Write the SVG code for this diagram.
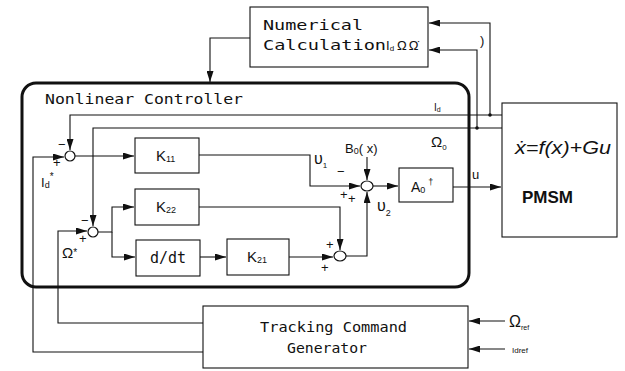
<svg xmlns="http://www.w3.org/2000/svg" width="625" height="371" viewBox="0 0 625 371">
<style>
.box{fill:#fff;stroke:#111;stroke-width:1.1}
.ln{fill:none;stroke:#111;stroke-width:1.1}
.sum{fill:#fff;stroke:#111;stroke-width:1.2}
.mono{font-family:"DejaVu Sans Mono","Liberation Mono",monospace;fill:#111}
.sans{font-family:"Liberation Sans",Arial,sans-serif;fill:#111}
.sg{font-family:"Liberation Sans",Arial,sans-serif;font-size:13px;fill:#111}
</style>
<defs>
<marker id="ah" markerWidth="11" markerHeight="7" refX="11" refY="3.5" orient="auto" markerUnits="userSpaceOnUse">
<path d="M0,0 L11,3.5 L0,7 z" fill="#111"/>
</marker>
</defs>
<rect width="625" height="371" fill="#fff"/>

<g id="controller">
<rect x="22" y="83" width="447" height="204" rx="14" ry="14" fill="none" stroke="#111" stroke-width="3"/>
<text class="mono" x="45" y="104" font-size="14" textLength="198" lengthAdjust="spacingAndGlyphs">Nonlinear Controller</text>
</g>

<g id="numerical">
<rect class="box" x="250" y="7" width="178" height="60"/>
<text class="mono" x="263" y="30" font-size="14" textLength="100" lengthAdjust="spacingAndGlyphs">Numerical</text>
<text class="mono" x="263" y="50" font-size="14" textLength="123" lengthAdjust="spacingAndGlyphs">Calculation</text>
<text class="sans" x="386" y="50" font-size="13">I<tspan font-size="8" dy="1">d</tspan><tspan dy="-1" dx="3">Ω</tspan><tspan dx="2">Ω̇</tspan></text>
</g>

<g id="pmsm">
<rect class="box" x="502" y="103" width="115" height="134"/>
<text class="sans" x="515" y="154" font-size="18" font-style="italic" textLength="96" lengthAdjust="spacingAndGlyphs">ẋ=f(x)+Gu</text>
<text class="sans" x="522" y="203" font-size="17" font-weight="bold">PMSM</text>
</g>

<g id="tracking">
<rect class="box" x="203" y="306" width="265" height="62"/>
<text class="mono" x="260" y="332" font-size="14" textLength="147" lengthAdjust="spacingAndGlyphs">Tracking Command</text>
<text class="mono" x="287" y="353" font-size="14" textLength="80" lengthAdjust="spacingAndGlyphs">Generator</text>
</g>

<g id="k11">
<rect class="box" x="135" y="138" width="64" height="35"/>
<text class="sans" x="156" y="161" font-size="15">K<tspan font-size="9" dy="1">11</tspan></text>
</g>
<g id="k22">
<rect class="box" x="135" y="189" width="64" height="36"/>
<text class="sans" x="156" y="212" font-size="15">K<tspan font-size="9" dy="1">22</tspan></text>
</g>
<g id="ddt">
<rect class="box" x="136" y="240" width="64" height="36"/>
<text class="mono" x="168" y="263" font-size="15" text-anchor="middle">d/dt</text>
</g>
<g id="k21">
<rect class="box" x="227" y="239" width="62" height="36"/>
<text class="sans" x="247" y="262" font-size="15">K<tspan font-size="9" dy="1">21</tspan></text>
</g>
<g id="a0">
<rect class="box" x="399" y="168" width="54" height="34"/>
<text class="sans" x="411" y="192" font-size="14">A<tspan font-size="9" dy="1">0</tspan><tspan font-size="9" dy="-8" dx="3">†</tspan></text>
</g>

<g id="sum1"><circle class="sum" cx="70" cy="156" r="5"/></g>
<g id="sum2"><circle class="sum" cx="93" cy="232" r="5"/></g>
<g id="sum3"><ellipse class="sum" cx="367" cy="186" rx="6" ry="5"/></g>
<g id="sum4"><ellipse class="sum" cx="340" cy="256" rx="6" ry="5"/></g>

<g id="connectors">
<path class="ln" d="M250,38 H210 V82" marker-end="url(#ah)"/>
<path class="ln" d="M502,115 H70 V150" marker-end="url(#ah)"/>
<path class="ln" d="M502,128 H93 V226" marker-end="url(#ah)"/>
<path class="ln" d="M490,115 V23 H429" marker-end="url(#ah)"/>
<path class="ln" d="M477,128 V50 H429" marker-end="url(#ah)"/>
<circle cx="490" cy="115" r="1.8" fill="#111"/>
<circle cx="477" cy="128" r="1.8" fill="#111"/>
<path class="ln" d="M203,352 H33 V157 H64" marker-end="url(#ah)"/>
<path class="ln" d="M203,323 H58 V231 H87" marker-end="url(#ah)"/>
<path class="ln" d="M75,156 H134" marker-end="url(#ah)"/>
<path class="ln" d="M98,232 H112 V207 H134" marker-end="url(#ah)"/>
<path class="ln" d="M112,232 V257 H135" marker-end="url(#ah)"/>
<path class="ln" d="M200,257 H226" marker-end="url(#ah)"/>
<path class="ln" d="M289,257 H333" marker-end="url(#ah)"/>
<path class="ln" d="M199,207 H340 V250" marker-end="url(#ah)"/>
<path class="ln" d="M346,256 H367 V192" marker-end="url(#ah)"/>
<path class="ln" d="M199,155 H310 V186 H360" marker-end="url(#ah)"/>
<path class="ln" d="M367,157 V180" marker-end="url(#ah)"/>
<path class="ln" d="M373,186 H398" marker-end="url(#ah)"/>
<path class="ln" d="M453,187 H501" marker-end="url(#ah)"/>
<path class="ln" d="M505,321 H469" marker-end="url(#ah)"/>
<path class="ln" d="M505,349 H469" marker-end="url(#ah)"/>
</g>

<g id="labels">
<text class="sans" x="434" y="111" font-size="10">I<tspan font-size="7" dy="1">d</tspan></text>
<text class="sans" x="431" y="147" font-size="15">Ω<tspan font-size="8" dy="3">0</tspan></text>
<text class="sans" x="472" y="179" font-size="13">u</text>
<text class="sans" x="480" y="45" font-size="13">)</text>
<text class="sans" x="345" y="153" font-size="13">B<tspan font-size="9" dy="1">0</tspan><tspan dy="-1">( x)</tspan></text>
<text class="sans" x="314" y="164" font-size="16">υ<tspan font-size="8" dy="4">1</tspan></text>
<text class="sans" x="377" y="211" font-size="16">υ<tspan font-size="9" dy="5">2</tspan></text>
<text class="sans" x="41" y="187" font-size="13">I<tspan font-size="9" dy="1">d</tspan><tspan font-size="10" dy="-8">*</tspan></text>
<text class="sans" x="62" y="258" font-size="15">Ω<tspan font-size="10" dy="-2">*</tspan></text>
<text class="sans" x="509" y="327" font-size="16">Ω<tspan font-size="7" dy="3">ref</tspan></text>
<text class="sans" x="512" y="353" font-size="8">Idref</text>
<text class="sg" x="58" y="149">−</text>
<text class="sg" x="53" y="167">+</text>
<text class="sg" x="81" y="225">−</text>
<text class="sg" x="79" y="243">+</text>
<text class="sg" x="337" y="176">−</text>
<text class="sg" x="340" y="199">+</text>
<text class="sg" x="348" y="203" font-size="11">+</text>
<text class="sg" x="326" y="249">+</text>
<text class="sg" x="321" y="272">+</text>
</g>
</svg>
